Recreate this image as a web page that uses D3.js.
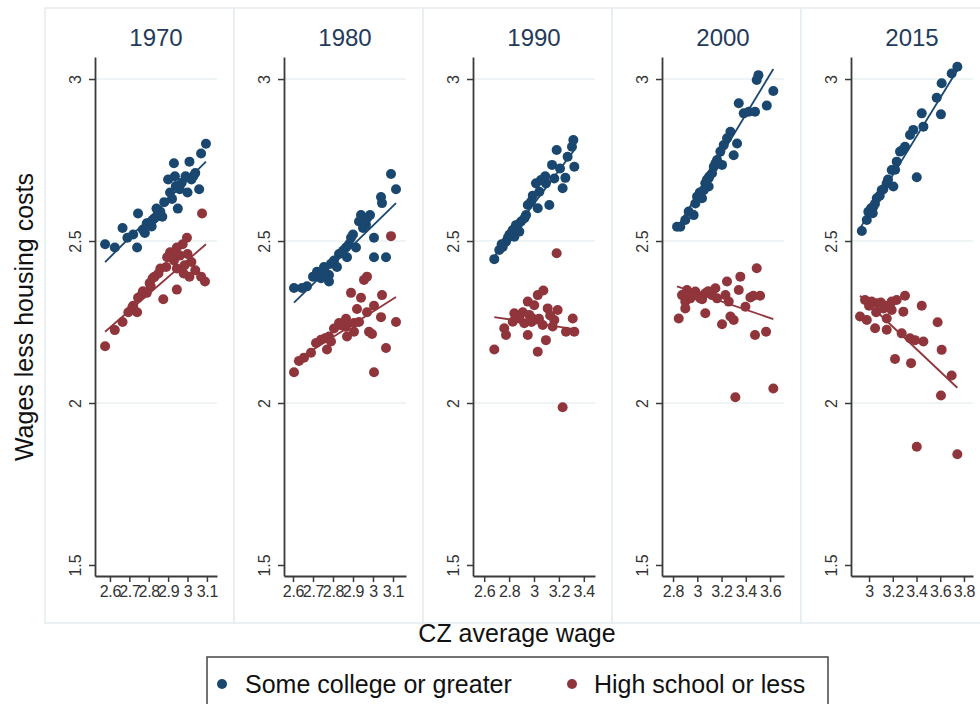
<!DOCTYPE html>
<html>
<head>
<meta charset="utf-8">
<script src="https://cdn.jsdelivr.net/npm/d3@7"></script>
<style>
  body { margin: 0; background: #fff; }
  svg { display: block; font-family: "Liberation Sans", Arial, sans-serif; }
</style>
</head>
<body>
<div id="chart"></div>
<script>
const years = ['1970', '1980', '1990', '2000', '2015'];

const xDomains = [[2.523, 3.152], [2.555, 3.165], [2.51, 3.49], [2.709, 3.715], [2.848, 3.876]];
const xTicks = [
  [2.6, 2.7, 2.8, 2.9, 3, 3.1],
  [2.6, 2.7, 2.8, 2.9, 3, 3.1],
  [2.6, 2.8, 3, 3.2, 3.4],
  [2.8, 3, 3.2, 3.4, 3.6],
  [3, 3.2, 3.4, 3.6, 3.8]
];
const yTicks = [1.5, 2, 2.5, 3];
const yGrid = [2, 2.5, 3];

// [CZ average wage, wages less housing costs]
const college1970 = [[3.095,2.80],[3.07,2.77],[2.93,2.74],[3.01,2.745],[3.04,2.71],[2.935,2.70],[2.90,2.69],[2.99,2.70],[3.02,2.69],[2.97,2.68],[3.06,2.66],[3.00,2.65],[2.92,2.63],[2.95,2.60],[2.88,2.62],[2.84,2.60],[2.87,2.575],[2.83,2.57],[2.745,2.585],[2.80,2.555],[2.77,2.535],[2.665,2.54],[2.69,2.51],[2.74,2.48],[2.625,2.48],[2.575,2.49],[2.815,2.545],[2.78,2.525],[2.86,2.59],[2.91,2.65],[2.96,2.66],[2.82,2.565],[2.72,2.52],[2.79,2.555],[2.85,2.58],[2.94,2.67],[3.03,2.70]];
const highSchool1970 = [[3.075,2.585],[2.997,2.51],[2.975,2.49],[2.945,2.48],[2.91,2.465],[2.96,2.455],[2.895,2.45],[3.02,2.435],[2.985,2.425],[3.04,2.41],[2.945,2.415],[2.86,2.415],[3.01,2.39],[3.07,2.39],[3.09,2.375],[2.83,2.39],[2.805,2.37],[2.945,2.35],[2.765,2.335],[2.79,2.34],[2.875,2.32],[2.745,2.325],[2.715,2.295],[2.74,2.28],[2.695,2.28],[2.665,2.25],[2.625,2.225],[2.575,2.175],[2.93,2.44],[2.89,2.42],[2.98,2.40],[3.00,2.46],[2.82,2.385],[2.85,2.40],[2.77,2.345],[2.72,2.30],[2.81,2.36],[2.92,2.455]];

const college1980 = [[3.09,2.707],[3.115,2.66],[3.04,2.636],[3.045,2.617],[2.94,2.58],[2.985,2.58],[2.93,2.56],[2.965,2.55],[3.005,2.51],[2.89,2.51],[2.915,2.48],[2.865,2.48],[2.83,2.46],[2.87,2.45],[3.005,2.45],[3.065,2.45],[2.805,2.44],[2.82,2.42],[2.755,2.42],[2.72,2.405],[2.78,2.395],[2.74,2.385],[2.78,2.375],[2.67,2.36],[2.605,2.355],[2.645,2.355],[2.90,2.52],[2.95,2.54],[2.85,2.47],[2.79,2.43],[2.70,2.39],[2.97,2.57],[2.88,2.49],[2.76,2.40]];
const highSchool1980 = [[3.09,2.515],[2.97,2.39],[2.955,2.38],[2.89,2.34],[2.94,2.325],[3.045,2.333],[3.005,2.30],[2.92,2.29],[2.97,2.28],[3.04,2.265],[3.115,2.25],[2.865,2.26],[2.83,2.247],[2.905,2.247],[2.805,2.23],[2.865,2.235],[2.905,2.22],[2.98,2.22],[2.995,2.213],[2.87,2.205],[2.78,2.205],[2.74,2.195],[2.79,2.19],[2.715,2.185],[2.77,2.165],[3.065,2.17],[2.69,2.155],[2.655,2.14],[2.63,2.13],[2.605,2.095],[3.005,2.095],[2.84,2.24],[2.76,2.20],[2.93,2.25]];

const college1990 = [[3.316,2.812],[3.305,2.791],[3.182,2.781],[3.145,2.735],[3.324,2.729],[3.209,2.724],[3.252,2.695],[3.163,2.693],[3.056,2.688],[3.016,2.678],[3.096,2.678],[3.23,2.663],[3.043,2.652],[2.976,2.621],[3.123,2.611],[2.95,2.611],[3.03,2.601],[2.936,2.58],[2.896,2.56],[2.855,2.549],[2.829,2.534],[2.882,2.529],[2.802,2.519],[2.842,2.513],[2.775,2.498],[2.749,2.482],[2.721,2.472],[2.681,2.444],[2.923,2.57],[2.815,2.524],[3.09,2.70],[2.99,2.64],[2.87,2.55],[2.79,2.51],[2.74,2.49],[3.27,2.76]];
const highSchool1990 = [[3.182,2.462],[3.075,2.347],[3.03,2.333],[2.95,2.313],[3.002,2.302],[3.11,2.292],[3.19,2.287],[2.842,2.277],[2.962,2.272],[2.882,2.261],[2.989,2.261],[3.311,2.261],[3.163,2.256],[2.829,2.251],[2.922,2.246],[3.07,2.241],[2.761,2.231],[3.15,2.236],[3.257,2.22],[3.324,2.22],[2.95,2.21],[2.775,2.21],[3.096,2.194],[2.681,2.165],[3.03,2.158],[3.23,1.987],[2.91,2.28],[2.86,2.27],[3.04,2.26],[2.98,2.25],[3.13,2.27]];

const college2000 = [[3.342,2.925],[3.383,2.894],[3.424,2.899],[3.273,2.837],[3.245,2.817],[3.328,2.801],[3.218,2.796],[3.30,2.765],[3.19,2.776],[3.163,2.75],[3.204,2.735],[3.136,2.729],[3.122,2.709],[3.094,2.694],[3.066,2.678],[3.094,2.668],[3.053,2.657],[2.998,2.637],[3.039,2.632],[2.984,2.616],[2.929,2.591],[2.97,2.58],[2.901,2.565],[2.86,2.544],[2.833,2.544],[3.10,2.70],[3.15,2.74],[3.02,2.65],[3.08,2.69],[3.504,3.012],[3.49,2.997],[3.627,2.963],[3.573,2.918],[3.476,2.899]];
const highSchool2000 = [[3.355,2.39],[3.245,2.375],[3.342,2.349],[3.149,2.354],[2.915,2.349],[2.984,2.344],[3.066,2.339],[2.874,2.333],[3.122,2.333],[3.232,2.333],[2.943,2.323],[3.025,2.323],[3.163,2.323],[3.259,2.313],[2.901,2.313],[3.438,2.326],[3.397,2.297],[2.901,2.292],[3.066,2.277],[2.847,2.261],[3.273,2.267],[3.30,2.256],[3.204,2.243],[3.314,2.018],[2.96,2.335],[3.01,2.33],[3.04,2.32],[2.93,2.34],[3.09,2.345],[3.49,2.416],[3.462,2.331],[3.518,2.331],[3.476,2.21],[3.567,2.22],[3.627,2.045]];

const college2015 = [[3.744,3.038],[3.696,3.017],[3.612,2.987],[3.57,2.942],[3.606,2.891],[3.444,2.894],[3.458,2.853],[3.373,2.843],[3.345,2.827],[3.303,2.791],[3.261,2.776],[3.402,2.697],[3.233,2.745],[3.191,2.719],[3.149,2.678],[3.205,2.668],[3.107,2.657],[3.065,2.632],[3.036,2.606],[2.994,2.59],[2.981,2.565],[2.939,2.531],[3.09,2.64],[3.16,2.69],[3.00,2.59],[3.05,2.615],[3.017,2.601],[3.031,2.586],[3.12,2.66],[3.22,2.72],[3.28,2.78]];
const highSchool2015 = [[3.303,2.331],[3.233,2.318],[3.191,2.313],[2.966,2.318],[3.022,2.313],[3.065,2.308],[3.444,2.30],[3.121,2.292],[3.191,2.287],[3.289,2.282],[2.924,2.267],[2.981,2.256],[3.149,2.261],[3.578,2.249],[3.051,2.231],[3.149,2.226],[3.275,2.215],[3.345,2.20],[3.387,2.194],[3.458,2.19],[3.612,2.164],[3.219,2.136],[3.354,2.123],[3.696,2.085],[3.606,2.023],[3.402,1.865],[3.744,1.842],[3.00,2.30],[3.10,2.31],[3.15,2.30],[3.06,2.28]];

// fitted lines: [x0, y0, x1, y1]
const collegeFit = [[2.575,2.435,3.095,2.745],[2.605,2.31,3.115,2.617],[2.681,2.452,3.324,2.781],[2.833,2.54,3.627,3.031],[2.924,2.539,3.744,3.028]];
const highSchoolFit = [[2.575,2.22,3.095,2.49],[2.605,2.127,3.115,2.327],[2.681,2.265,3.324,2.228],[2.833,2.36,3.627,2.259],[2.924,2.331,3.744,2.047]];

const collegeSeries = [college1970, college1980, college1990, college2000, college2015];
const highSchoolSeries = [highSchool1970, highSchool1980, highSchool1990, highSchool2000, highSchool2015];

const blue = '#1a476f';
const red = '#90353b';
const gridColor = '#e9f0f2';
const panelStroke = '#e3ebef';
const axisColor = '#3a3a3a';
const titleColor = '#243a5c';

const width = 980;
const height = 704;
const panelLeft = 45;
const panelWidth = 189;
const panelTop = 8;
const panelBottom = 623;
const plotOffset = 50;
const plotWidth = 122;
const yTop = 57;
const yBottom = 576;
const markerR = 5;

const svg = d3.select('#chart')
  .append('svg')
  .attr('width', width)
  .attr('height', height);

const yScale = d3.scaleLinear().domain([1.466, 3.068]).range([yBottom, yTop]);

years.forEach((year, i) => {
  const left = panelLeft + panelWidth * i;
  const x0 = left + plotOffset;
  const x1 = x0 + plotWidth;
  const xScale = d3.scaleLinear().domain(xDomains[i]).range([x0, x1]);

  const g = svg.append('g').attr('class', 'panel');

  g.append('rect')
    .attr('x', left)
    .attr('y', panelTop)
    .attr('width', panelWidth)
    .attr('height', panelBottom - panelTop)
    .attr('fill', 'white')
    .attr('stroke', panelStroke)
    .attr('stroke-width', 1.5);

  g.append('text')
    .attr('x', (x0 + x1) / 2)
    .attr('y', 46)
    .attr('text-anchor', 'middle')
    .style('font-size', '24px')
    .style('fill', titleColor)
    .text(year);

  g.selectAll('line.grid')
    .data(yGrid)
    .enter()
    .append('line')
    .attr('class', 'grid')
    .attr('x1', x0)
    .attr('x2', x1)
    .attr('y1', d => yScale(d))
    .attr('y2', d => yScale(d))
    .attr('stroke', gridColor)
    .attr('stroke-width', 1.6);

  // y axis
  const yAxisEl = g.append('g')
    .attr('transform', `translate(${x0},0)`)
    .call(d3.axisLeft(yScale).tickValues(yTicks).tickSize(6).tickSizeOuter(0).tickFormat(d3.format('~g')));
  yAxisEl.select('.domain').attr('stroke', axisColor).attr('stroke-width', 1.8);
  yAxisEl.selectAll('.tick line').attr('stroke', axisColor).attr('stroke-width', 1.5);
  yAxisEl.selectAll('.tick text')
    .attr('x', null)
    .attr('dy', null)
    .attr('transform', 'translate(-14.5,0) rotate(-90)')
    .attr('text-anchor', 'middle')
    .style('font-size', '16px')
    .style('font-family', '"Liberation Sans", Arial, sans-serif')
    .style('fill', '#333');

  // x axis
  const xAxisEl = g.append('g')
    .attr('transform', `translate(0,${yBottom})`)
    .call(d3.axisBottom(xScale).tickValues(xTicks[i]).tickSize(6).tickSizeOuter(0).tickFormat(d3.format('~g')));
  xAxisEl.select('.domain').attr('stroke', axisColor).attr('stroke-width', 1.8);
  xAxisEl.selectAll('.tick line').attr('stroke', axisColor).attr('stroke-width', 1.5);
  xAxisEl.selectAll('.tick text')
    .attr('y', 21)
    .attr('dy', null)
    .style('font-size', '16px')
    .style('letter-spacing', '-0.3px')
    .style('font-family', '"Liberation Sans", Arial, sans-serif')
    .style('fill', '#333');

  const drawGroup = (points, fit, color) => {
    g.append('g')
      .selectAll('circle')
      .data(points)
      .enter()
      .append('circle')
      .attr('cx', d => xScale(d[0]))
      .attr('cy', d => yScale(d[1]))
      .attr('r', markerR)
      .attr('fill', color);

    g.append('line')
      .attr('x1', xScale(fit[0]))
      .attr('y1', yScale(fit[1]))
      .attr('x2', xScale(fit[2]))
      .attr('y2', yScale(fit[3]))
      .attr('stroke', color)
      .attr('stroke-width', 1.8);
  };

  drawGroup(collegeSeries[i], collegeFit[i], blue);
  drawGroup(highSchoolSeries[i], highSchoolFit[i], red);
});

// axis titles
svg.append('text')
  .attr('transform', 'translate(33,317) rotate(-90)')
  .attr('text-anchor', 'middle')
  .style('font-size', '25px')
  .style('fill', '#111')
  .text('Wages less housing costs');

svg.append('text')
  .attr('x', 517)
  .attr('y', 642)
  .attr('text-anchor', 'middle')
  .style('font-size', '25px')
  .style('fill', '#111')
  .text('CZ average wage');

// legend
const legend = svg.append('g').attr('class', 'legend');
legend.append('rect')
  .attr('x', 207)
  .attr('y', 657)
  .attr('width', 621)
  .attr('height', 70)
  .attr('fill', 'white')
  .attr('stroke', '#444')
  .attr('stroke-width', 1.5);

const legendItems = [
  { label: 'Some college or greater', color: blue, dotX: 222, textX: 245 },
  { label: 'High school or less', color: red, dotX: 572, textX: 594 }
];

legendItems.forEach(item => {
  legend.append('circle')
    .attr('cx', item.dotX)
    .attr('cy', 684)
    .attr('r', 5)
    .attr('fill', item.color);
  legend.append('text')
    .attr('x', item.textX)
    .attr('y', 693)
    .style('font-size', '25px')
    .style('fill', '#111')
    .text(item.label);
});
</script>
</body>
</html>
